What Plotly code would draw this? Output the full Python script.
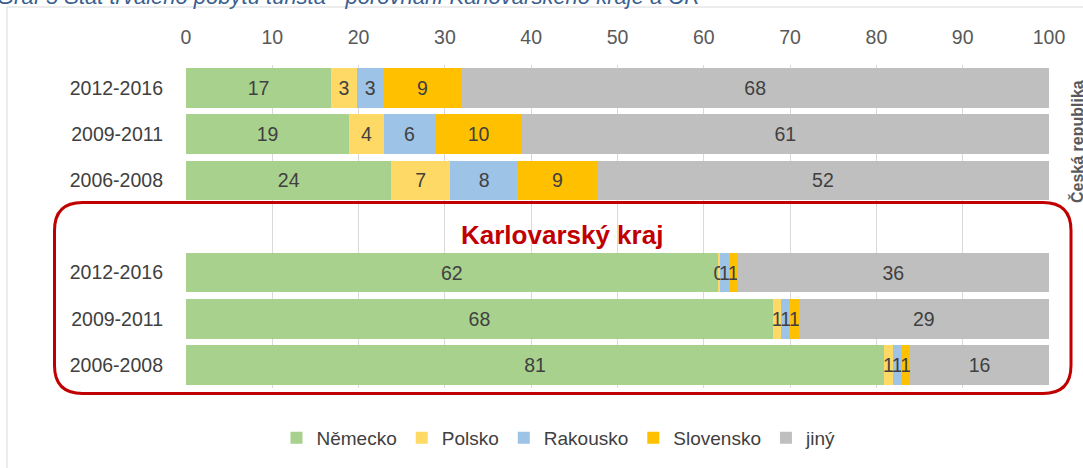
import plotly.graph_objects as go

# ---- data ----
periods = ["2012-2016", "2009-2011", "2006-2008"]
regions = ["Česká republika", "Karlovarský kraj"]
series = ["Německo", "Polsko", "Rakousko", "Slovensko", "jiný"]
colors = ["#A9D18E", "#FFD966", "#9DC3E6", "#FFC000", "#BFBFBF"]

# values for Česká republika (per period)
nemecko_cr = [16.8, 18.9, 23.8]
polsko_cr = [3.0, 4.0, 6.8]
rakousko_cr = [3.1, 6.0, 7.9]
slovensko_cr = [9.0, 10.0, 9.1]
jiny_cr = [68.1, 61.1, 52.4]

# values for Karlovarský kraj (per period)
nemecko_kv = [61.6, 68.0, 80.9]
polsko_kv = [0.3, 1.0, 1.0]
rakousko_kv = [1.0, 1.0, 1.0]
slovensko_kv = [1.0, 1.0, 1.0]
jiny_kv = [36.1, 29.0, 16.1]

x_ticks = [0, 10, 20, 30, 40, 50, 60, 70, 80, 90, 100]

title_text = "Graf 5 Stát trvalého pobytu turista - porovnání Karlovarského kraje a ČR"

cr_values = [nemecko_cr, polsko_cr, rakousko_cr, slovensko_cr, jiny_cr]
kv_values = [nemecko_kv, polsko_kv, rakousko_kv, slovensko_kv, jiny_kv]

# ---- layout geometry (pixels) ----
W, H = 1083, 468
L, R, T, B = 186, 34, 65, 80
PW, PH = W - L - R, H - T - B


def xp(px):
    return (px - L) / PW


def yp(py):
    return (H - B - py) / PH


# row positions: 3 rows CR, one empty row, 3 rows KV
n = len(periods)
y_cr = list(range(n))
y_kv = [n + 1 + i for i in range(n)]
y_all = y_cr + y_kv

FS = 19.5
font_fam = "Liberation Sans, Arial, sans-serif"

fig = go.Figure()
for name, col, vcr, vkv in zip(series, colors, cr_values, kv_values):
    vals = vcr + vkv
    fig.add_trace(go.Bar(
        y=y_all, x=vals, name=name, orientation="h",
        marker=dict(color=col, line=dict(width=0)),
        width=0.86,
        text=vals, texttemplate="%{x:.0f}", textposition="inside",
        insidetextanchor="middle",
        insidetextfont=dict(color="#404040", size=FS),
        hoverinfo="skip",
    ))

fig.update_layout(
    width=W, height=H,
    margin=dict(l=L, r=R, t=T, b=B, autoexpand=False),
    barmode="stack",
    plot_bgcolor="white", paper_bgcolor="white",
    font=dict(family=font_fam, color="#404040", size=FS),
    uniformtext=dict(minsize=FS, mode="show"),
    showlegend=True,
    legend=dict(orientation="h", x=xp(559), xanchor="center",
                y=yp(438), yanchor="middle",
                font=dict(size=19, color="#404040"),
                traceorder="normal", itemwidth=30),
    xaxis=dict(side="top", range=[0, 100], tickvals=x_ticks,
               showgrid=True, gridcolor="#D9D9D9", gridwidth=1,
               zeroline=False, showline=False, ticks="",
               ticklabelstandoff=16, automargin=False,
               tickfont=dict(size=FS, color="#595959")),
    yaxis=dict(range=[len(y_all) + 0.5, -0.5], tickvals=y_all,
               ticktext=periods + periods, showgrid=False,
               zeroline=False, showline=False, ticks="",
               ticklabelstandoff=22, automargin=False,
               tickfont=dict(size=FS, color="#404040")),
)

# outer light frame
fig.add_shape(type="rect", xref="paper", yref="paper",
              x0=xp(7), x1=xp(1100), y0=yp(7), y1=yp(480),
              line=dict(color="#D9D9D9", width=1), layer="below")

# red rounded frame around Karlovarský kraj
x0, x1, y0, y1, rr = 54.5, 1071, 202.5, 393.5, 28
path = (
    f"M {xp(x0 + rr)} {yp(y0)} L {xp(x1 - rr)} {yp(y0)} "
    f"Q {xp(x1)} {yp(y0)} {xp(x1)} {yp(y0 + rr)} "
    f"L {xp(x1)} {yp(y1 - rr)} Q {xp(x1)} {yp(y1)} {xp(x1 - rr)} {yp(y1)} "
    f"L {xp(x0 + rr)} {yp(y1)} Q {xp(x0)} {yp(y1)} {xp(x0)} {yp(y1 - rr)} "
    f"L {xp(x0)} {yp(y0 + rr)} Q {xp(x0)} {yp(y0)} {xp(x0 + rr)} {yp(y0)} Z"
)
fig.add_shape(type="path", xref="paper", yref="paper", path=path,
              line=dict(color="#C00000", width=3), layer="above")

# annotations
fig.add_annotation(xref="paper", yref="paper", x=xp(562), y=yp(235),
                   text="<b>" + regions[1] + "</b>", showarrow=False,
                   font=dict(family=font_fam, size=26, color="#C00000"),
                   xanchor="center", yanchor="middle")
fig.add_annotation(xref="paper", yref="paper", x=xp(1077), y=yp(142),
                   text="<b>" + regions[0] + "</b>", showarrow=False,
                   textangle=-90,
                   font=dict(family=font_fam, size=16, color="#595959"),
                   xanchor="center", yanchor="middle")
fig.add_annotation(xref="paper", yref="paper", x=xp(-4), y=yp(10),
                   text="<i>" + title_text + "</i>",
                   showarrow=False, borderpad=0,
                   font=dict(family=font_fam, size=22, color="#3A5F8F"),
                   xanchor="left", yanchor="bottom")

fig.write_html("out.html", config={"displayModeBar": False},
               post_script="document.body.style.margin='0';document.body.style.overflow='hidden';")
